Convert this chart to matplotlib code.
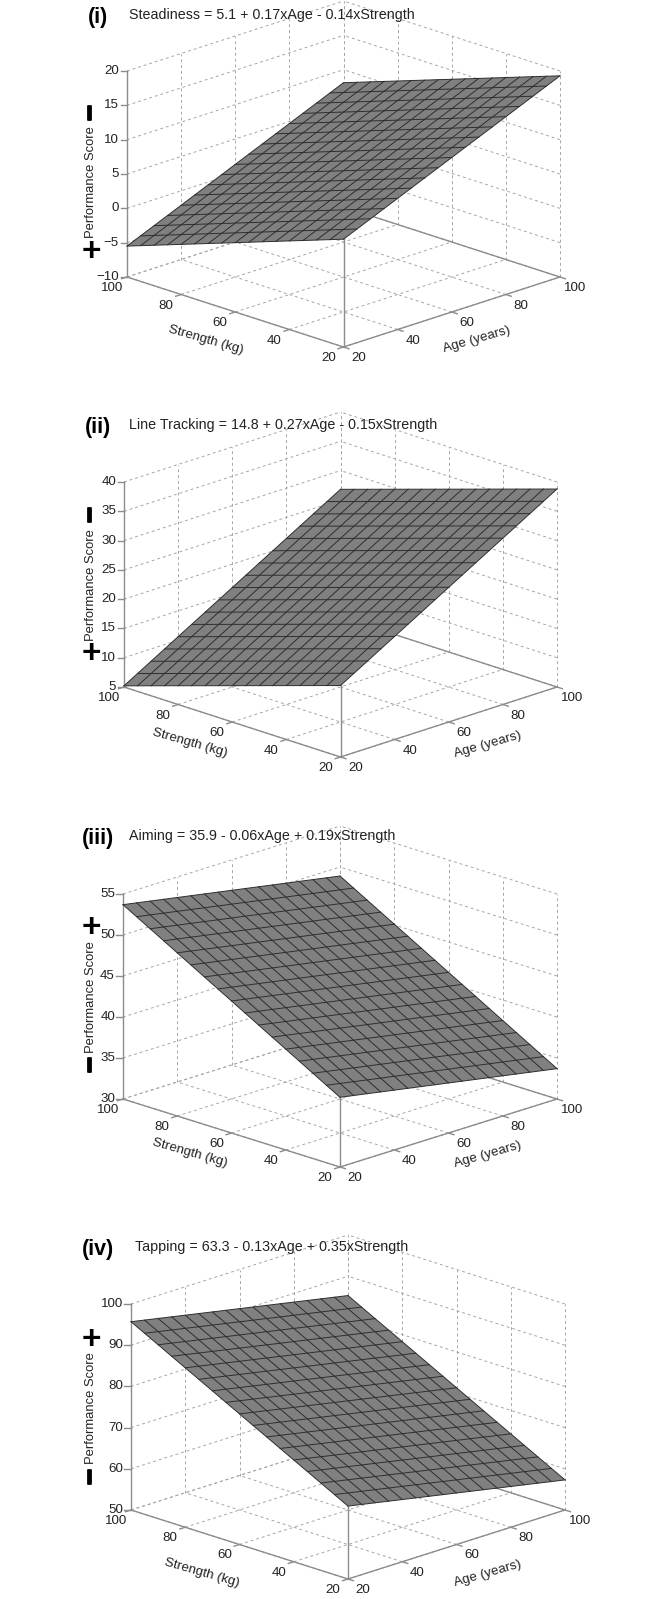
import numpy as np
import matplotlib
matplotlib.use('Agg')
import matplotlib.pyplot as plt
import matplotlib.patheffects as pe
from mpl_toolkits.mplot3d import proj3d

plt.rcParams['font.family'] = ['Liberation Sans', 'DejaVu Sans']

W, H = 667, 1599

age_grid = [20, 25, 30, 35, 40, 45, 50, 55, 60, 65, 70, 75, 80, 85, 90, 95, 100]
strength_grid = [20, 25, 30, 35, 40, 45, 50, 55, 60, 65, 70, 75, 80, 85, 90, 95, 100]
age_ticks = [20, 40, 60, 80, 100]
strength_ticks = [20, 40, 60, 80, 100]

tags = ['(i)', '(ii)', '(iii)', '(iv)']
titles = ['Steadiness = 5.1 + 0.17xAge - 0.14xStrength',
          'Line Tracking = 14.8 + 0.27xAge - 0.15xStrength',
          'Aiming = 35.9 - 0.06xAge + 0.19xStrength',
          'Tapping = 63.3 - 0.13xAge + 0.35xStrength']
z_ticks = [[-10, -5, 0, 5, 10, 15, 20],
           [5, 10, 15, 20, 25, 30, 35, 40],
           [30, 35, 40, 45, 50, 55],
           [50, 60, 70, 80, 90, 100]]

# height of each plane along its four edges (s20 = strength 20, a20 = age 20, ...)
i_s20 = [5.70, 6.55, 7.40, 8.25, 9.10, 9.95, 10.80, 11.65, 12.50, 13.35, 14.20, 15.05, 15.90, 16.75, 17.60, 18.45, 19.30]
i_s100 = [-5.50, -4.65, -3.80, -2.95, -2.10, -1.25, -0.40, 0.45, 1.30, 2.15, 3.00, 3.85, 4.70, 5.55, 6.40, 7.25, 8.10]
i_a20 = [5.70, 5.00, 4.30, 3.60, 2.90, 2.20, 1.50, 0.80, 0.10, -0.60, -1.30, -2.00, -2.70, -3.40, -4.10, -4.80, -5.50]
i_a100 = [19.30, 18.60, 17.90, 17.20, 16.50, 15.80, 15.10, 14.40, 13.70, 13.00, 12.30, 11.60, 10.90, 10.20, 9.50, 8.80, 8.10]

ii_s20 = [17.20, 18.55, 19.90, 21.25, 22.60, 23.95, 25.30, 26.65, 28.00, 29.35, 30.70, 32.05, 33.40, 34.75, 36.10, 37.45, 38.80]
ii_s100 = [5.20, 6.55, 7.90, 9.25, 10.60, 11.95, 13.30, 14.65, 16.00, 17.35, 18.70, 20.05, 21.40, 22.75, 24.10, 25.45, 26.80]
ii_a20 = [17.20, 16.45, 15.70, 14.95, 14.20, 13.45, 12.70, 11.95, 11.20, 10.45, 9.70, 8.95, 8.20, 7.45, 6.70, 5.95, 5.20]
ii_a100 = [38.80, 38.05, 37.30, 36.55, 35.80, 35.05, 34.30, 33.55, 32.80, 32.05, 31.30, 30.55, 29.80, 29.05, 28.30, 27.55, 26.80]

iii_s20 = [38.5, 38.2, 37.9, 37.6, 37.3, 37.0, 36.7, 36.4, 36.1, 35.8, 35.5, 35.2, 34.9, 34.6, 34.3, 34.0, 33.7]
iii_s100 = [53.7, 53.4, 53.1, 52.8, 52.5, 52.2, 51.9, 51.6, 51.3, 51.0, 50.7, 50.4, 50.1, 49.8, 49.5, 49.2, 48.9]
iii_a20 = [38.50, 39.45, 40.40, 41.35, 42.30, 43.25, 44.20, 45.15, 46.10, 47.05, 48.00, 48.95, 49.90, 50.85, 51.80, 52.75, 53.70]
iii_a100 = [33.70, 34.65, 35.60, 36.55, 37.50, 38.45, 39.40, 40.35, 41.30, 42.25, 43.20, 44.15, 45.10, 46.05, 47.00, 47.95, 48.90]

iv_s20 = [67.70, 67.05, 66.40, 65.75, 65.10, 64.45, 63.80, 63.15, 62.50, 61.85, 61.20, 60.55, 59.90, 59.25, 58.60, 57.95, 57.30]
iv_s100 = [95.70, 95.05, 94.40, 93.75, 93.10, 92.45, 91.80, 91.15, 90.50, 89.85, 89.20, 88.55, 87.90, 87.25, 86.60, 85.95, 85.30]
iv_a20 = [67.70, 69.45, 71.20, 72.95, 74.70, 76.45, 78.20, 79.95, 81.70, 83.45, 85.20, 86.95, 88.70, 90.45, 92.20, 93.95, 95.70]
iv_a100 = [57.30, 59.05, 60.80, 62.55, 64.30, 66.05, 67.80, 69.55, 71.30, 73.05, 74.80, 76.55, 78.30, 80.05, 81.80, 83.55, 85.30]

edges = [(i_s20, i_s100, i_a20, i_a100), (ii_s20, ii_s100, ii_a20, ii_a100),
         (iii_s20, iii_s100, iii_a20, iii_a100), (iv_s20, iv_s100, iv_a20, iv_a100)]

# pixel layout of each panel: left x, right x, bottom corner x, floor y at sides,
# top of z axis y, floor y at the front corner
boxes = [(127, 560, 343, 277, 71, 347),
         (124, 557, 340, 687, 482, 757),
         (123, 557, 340, 1099, 894, 1167),
         (131, 565, 348, 1510, 1304, 1579)]
tag_pos = [(98, 17), (98, 427), (98, 838), (98, 1250)]
title_pos = [(129, 15), (129, 425), (129, 836), (135, 1247)]
ylabel_y = [182, 585, 997, 1408]
minus_y = [113, 515, 1065, 1477]
plus_y = [253, 655, 928, 1340]
strength_lab = [(206, 340), (190, 743), (190, 1153), (202, 1573)]
age_lab = [(477, 340), (488, 745), (488, 1155), (488, 1574)]

GRID = '#a6a6a6'
AXIS = '#8c8c8c'
TEXT = '#222222'


def fig_text(fig, px, py, s, **kw):
    kw.setdefault('ha', 'center')
    kw.setdefault('va', 'center')
    kw.setdefault('color', TEXT)
    return fig.text(px / W, 1 - py / H, s, **kw)


def place(ax, box):
    # moves the square 3d axes so the box corners land on the wanted pixels
    left, right, front, floor, top, front_y = box
    half = (right - left) / 2.0
    elev = np.degrees(np.arcsin((front_y - floor) / half))
    ax.view_init(elev=elev, azim=-135)
    ax.set_box_aspect((1, 1, (floor - top) / np.cos(np.radians(elev)) / (half * np.sqrt(2))))
    zmin = ax.get_zlim()[0]

    def corner_px(x, y):
        u, v, _ = proj3d.proj_transform(x, y, zmin, ax.get_proj())
        return ax.transData.transform((u, v))

    side = 600.0
    ax.set_position([0.1, 0.1, side / W, side / H])
    ax.apply_aspect()
    measured = corner_px(100, 20)[0] - corner_px(20, 100)[0]
    side = side * (right - left) / measured
    ax.set_position([0.1, 0.1, side / W, side / H])
    ax.apply_aspect()
    p = corner_px(20, 100)
    dx = left - p[0]
    dy = (H - floor) - p[1]
    ax.set_position([0.1 + dx / W, 0.1 + dy / H, side / W, side / H])
    ax.apply_aspect()


def tick_text(ax, x, y, z, dx, dy, s, **kw):
    u, v, _ = proj3d.proj_transform(x, y, z, ax.get_proj())
    kw.setdefault('ha', 'center')
    ax.annotate(s, xy=(u, v), xytext=(dx, dy), textcoords='offset pixels',
                va='center', fontsize=9.6, color=TEXT, annotation_clip=False, **kw)


fig = plt.figure(figsize=(W / 100, H / 100), dpi=100)

for n in range(4):
    ax = fig.add_subplot(projection='3d', proj_type='ortho')
    ax.computed_zorder = False
    ax.set_axis_off()
    ax.patch.set_visible(False)
    zt = z_ticks[n]
    z0, z1 = zt[0], zt[-1]
    ax.set_xlim(20, 100)
    ax.set_ylim(20, 100)
    ax.set_zlim(z0, z1)
    place(ax, boxes[n])

    grid = dict(color=GRID, lw=0.7, ls=(0, (3, 3)), zorder=1, clip_on=False)
    solid = dict(color=AXIS, lw=1.0, zorder=1.5, clip_on=False)

    # dashed grid on the back walls and the floor
    for z in zt:
        ax.plot([20, 100], [100, 100], [z, z], **grid)
        ax.plot([100, 100], [20, 100], [z, z], **grid)
    for a in age_ticks:
        ax.plot([a, a], [100, 100], [z0, z1], **grid)
        if a < 100:
            ax.plot([a, a], [20, 100], [z0, z0], **grid)
    for s in strength_ticks:
        ax.plot([100, 100], [s, s], [z0, z1], **grid)
        ax.plot([20, 100], [s, s], [z0, z0], **grid)

    # solid box edges
    ax.plot([20, 20], [100, 100], [z0, z1], **solid)
    ax.plot([20, 20], [20, 20], [z0, z1], **solid)
    ax.plot([20, 100], [20, 20], [z0, z0], **solid)
    ax.plot([20, 20], [20, 100], [z0, z0], **solid)
    ax.plot([100, 100], [20, 100], [z0, z0], **solid)

    # ticks
    for a in age_ticks:
        ax.plot([a, a], [20, 18], [z0, z0], **solid)
    for s in strength_ticks:
        ax.plot([20, 18], [s, s], [z0, z0], **solid)
    for z in zt:
        ax.plot([20, 18.8], [100, 101.2], [z, z], **solid)

    # the plane
    s20, s100, a20, a100 = edges[n]
    X = np.array([[20, 100], [20, 100]])
    Y = np.array([[20, 20], [100, 100]])
    Z = np.array([[s20[0], s20[-1]], [s100[0], s100[-1]]])
    ax.plot_surface(X, Y, Z, color='#808080', shade=False, linewidth=0,
                    antialiased=True, zorder=2)
    mesh = dict(color='#2e2e2e', lw=0.7, zorder=3, clip_on=False)
    for i, s in enumerate(strength_grid):
        ax.plot([20, 100], [s, s], [a20[i], a100[i]], **mesh)
    for j, a in enumerate(age_grid):
        ax.plot([a, a], [20, 100], [s20[j], s100[j]], **mesh)

    # tick labels
    for a in age_ticks:
        tick_text(ax, a, 20, z0, 15, -11, str(a))
    for s in strength_ticks:
        tick_text(ax, 20, s, z0, -15, -11, str(s))
    for z in zt:
        tick_text(ax, 20, 100, z, -8, 0, str(z).replace('-', '\u2212'), ha='right')

    # text around the panel
    fig_text(fig, tag_pos[n][0], tag_pos[n][1], tags[n], fontsize=15.5, fontweight='bold', color='black')
    fig_text(fig, title_pos[n][0], title_pos[n][1], titles[n], ha='left', fontsize=10.3)
    fig_text(fig, 91, ylabel_y[n], 'Performance Score', rotation=90, fontsize=9.4)
    m = fig_text(fig, 91, minus_y[n], '\u2212', rotation=90, fontsize=19, fontweight='bold', color='black')
    m.set_path_effects([pe.withStroke(linewidth=1.3, foreground='black')])
    fig_text(fig, 91, plus_y[n], '+', fontsize=24, fontweight='bold', color='black')
    fig_text(fig, strength_lab[n][0], strength_lab[n][1], 'Strength (kg)', rotation=-16, fontsize=9.6)
    fig_text(fig, age_lab[n][0], age_lab[n][1], 'Age (years)', rotation=16, fontsize=9.6)

fig.savefig('out.png', dpi=100)
